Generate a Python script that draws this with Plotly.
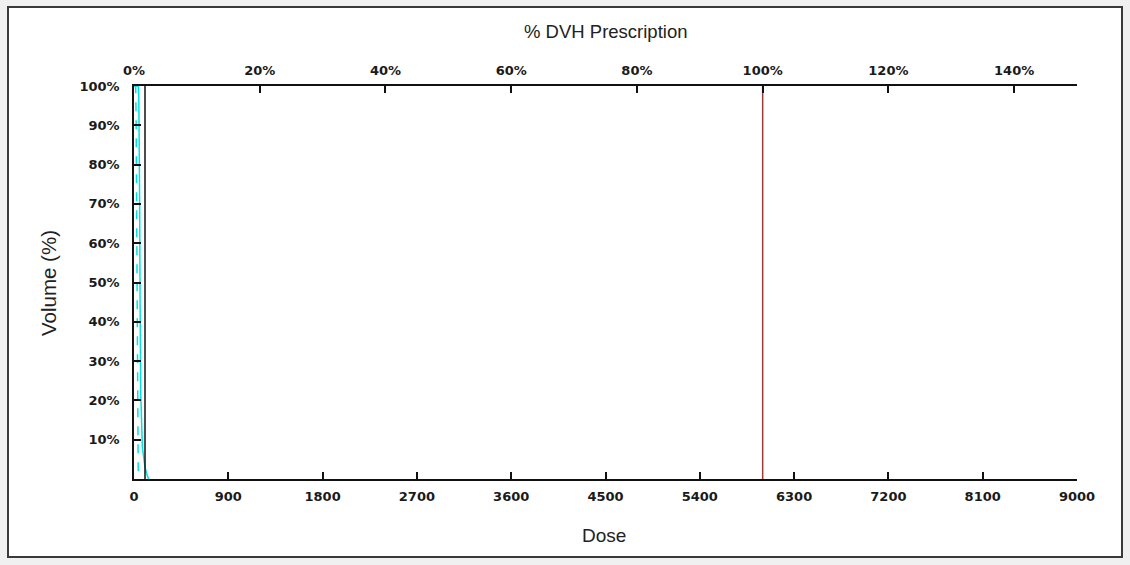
import plotly.graph_objects as go

# --- data ---
prescription_dose = 6000
dose_max = 9000
dose_ticks = [0, 900, 1800, 2700, 3600, 4500, 5400, 6300, 7200, 8100, 9000]
pct_ticks = [0, 20, 40, 60, 80, 100, 120, 140]
vol_ticks = [10, 20, 30, 40, 50, 60, 70, 80, 90, 100]

dvh_solid_dose = [0, 42, 46, 50, 54, 58, 64, 80, 105, 125, 140]
dvh_solid_vol = [100, 100, 97, 88, 70, 45, 22, 8, 3, 1, 0]

dvh_dashed_dose = [0, 16, 20, 24, 28, 33, 40, 45]
dvh_dashed_vol = [100, 100, 92, 70, 40, 15, 3, 0]

black_line_dose = [105, 105]
black_line_vol = [0, 100]

rx_line_dose = [prescription_dose, prescription_dose]
rx_line_vol = [0, 100]

# plot-area pixel geometry
W, H = 1130, 565
L, R, T, B = 134, 1077, 86, 479
pw, ph = R - L, B - T


def px(x):
    return (x - L) / pw


def py(y):
    return (B - y) / ph


fig = go.Figure()
fig.add_trace(go.Scatter(x=dvh_dashed_dose, y=dvh_dashed_vol, mode="lines",
                         line=dict(color="#00e0e0", width=1.5, dash="dash"),
                         showlegend=False, hoverinfo="skip"))
fig.add_trace(go.Scatter(x=dvh_solid_dose, y=dvh_solid_vol, mode="lines",
                         line=dict(color="#00e0e0", width=1.5),
                         showlegend=False, hoverinfo="skip"))
fig.add_trace(go.Scatter(x=black_line_dose, y=black_line_vol, mode="lines",
                         line=dict(color="#111111", width=1.5),
                         showlegend=False, hoverinfo="skip"))
fig.add_trace(go.Scatter(x=rx_line_dose, y=rx_line_vol, mode="lines",
                         line=dict(color="#a33a3a", width=1.5),
                         showlegend=False, hoverinfo="skip"))
# invisible trace to anchor top percentage axis
fig.add_trace(go.Scatter(x=[0, 150], y=[0, 0], xaxis="x2", mode="lines",
                         line=dict(width=0), opacity=0,
                         showlegend=False, hoverinfo="skip"))

tickfont = dict(family="DejaVu Sans, Verdana, sans-serif", size=13,
                color="#1a1a1a", weight="bold")
titlefont = dict(family="Liberation Sans, Arial, sans-serif", size=19,
                 color="#222222")

fig.update_layout(
    width=W, height=H,
    margin=dict(l=L, r=W - R, t=T, b=H - B),
    paper_bgcolor="#f0f0f0",
    plot_bgcolor="white",
    xaxis=dict(range=[0, dose_max], tickvals=dose_ticks,
               ticktext=[str(v) for v in dose_ticks],
               ticks="inside", ticklen=7, tickwidth=1.5, tickcolor="#111",
               showline=True, linecolor="#111", linewidth=1.5,
               showgrid=False, zeroline=False, tickfont=tickfont,
               ticklabelstandoff=5, fixedrange=True),
    xaxis2=dict(range=[0, 150], overlaying="x", side="top",
                tickvals=pct_ticks, ticktext=[f"{v}%" for v in pct_ticks],
                ticks="inside", ticklen=7, tickwidth=1.5, tickcolor="#111",
                showline=True, linecolor="#111", linewidth=1.5,
                showgrid=False, zeroline=False, tickfont=tickfont,
                ticklabelstandoff=4, fixedrange=True),
    yaxis=dict(range=[0, 100], tickvals=vol_ticks,
               ticktext=[f"{v}%" for v in vol_ticks],
               ticks="inside", ticklen=7, tickwidth=1.5, tickcolor="#111",
               showline=True, linecolor="#111", linewidth=1.5,
               showgrid=False, zeroline=False, tickfont=tickfont,
               ticklabelstandoff=10, fixedrange=True),
    shapes=[dict(type="rect", xref="paper", yref="paper",
                 x0=px(8), x1=px(1122), y0=py(557), y1=py(7),
                 line=dict(color="#3a3a3a", width=2), fillcolor="white",
                 layer="below")],
    annotations=[
        dict(text="Dose", xref="paper", yref="paper", x=px(604), y=py(535),
             xanchor="center", yanchor="middle", showarrow=False, font=titlefont),
        dict(text="% DVH Prescription", xref="paper", yref="paper",
             x=px(605), y=py(31), xanchor="center", yanchor="middle",
             showarrow=False, font=dict(titlefont, size=18.5)),
        dict(text="Volume (%)", xref="paper", yref="paper", x=px(48),
             y=py(283), xanchor="center", yanchor="middle", textangle=-90,
             showarrow=False, font=dict(titlefont, size=20.5)),
    ],
)

fig.write_html("out.html",
               config={"displayModeBar": False},
               post_script="document.body.style.margin='0';"
                           "document.body.style.background='#f0f0f0';")
